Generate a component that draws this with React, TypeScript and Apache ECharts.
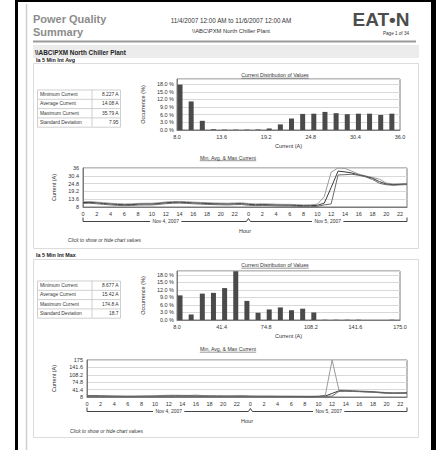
import React, { useEffect, useRef } from "react";
import * as echarts from "echarts";

const FONT = '"Liberation Sans", Arial, Helvetica, sans-serif';

const reportTitle = ["Power Quality", "Summary"];
const dateRange = "11/4/2007 12:00 AM to 11/6/2007 12:00 AM";
const sourceName = "\\\\ABC\\PXM North Chiller Plant";
const pageLabel = "Page 1 of 34";
const logoText = "EAT\u2022N";
const sectionTitles = ["Ia 5 Min Int Avg", "Ia 5 Min Int Max"];
const distTitle = "Current Distribution of Values";
const trendTitle = "Min, Avg, & Max Current";
const clickText = "Click to show or hide chart values";

const statLabels = ["Minimum Current", "Average Current", "Maximum Current", "Standard Deviation"];
const avgStatValues = ["8.227 A", "14.08 A", "35.79 A", "7.95"];
const maxStatValues = ["8.677 A", "15.42 A", "174.8 A", "18.7"];

const dayLabels = ["Nov 4, 2007", "Nov 5, 2007"];
const hourLabels = [
  "0", "1", "2", "3", "4", "5", "6", "7", "8", "9", "10", "11",
  "12", "13", "14", "15", "16", "17", "18", "19", "20", "21", "22", "23",
  "0", "1", "2", "3", "4", "5", "6", "7", "8", "9", "10", "11",
  "12", "13", "14", "15", "16", "17", "18", "19", "20", "21", "22", "23",
];

// Histogram: Ia 5 Min Int Avg
const avgBinStart = 8.0;
const avgBinWidth = 1.4;
const avgOccurrence = [17.8, 11.2, 3.6, 0.3, 0.15, 0.15, 0.15, 0.15, 0.6, 2.2, 4.5, 6.3, 6.4, 7.1, 6.6, 6.2, 6.4, 6.4, 5.9, 6.4];
const avgBinTicks = [8.0, 13.6, 19.2, 24.8, 30.4, 36.0];

// Histogram: Ia 5 Min Int Max
const maxBinStart = 8.0;
const maxBinWidth = 8.35;
const maxOccurrence = [9.8, 2.2, 10.5, 10.8, 12.7, 19.4, 7.6, 2.9, 4.2, 5.0, 3.9, 4.5, 3.0, 0.1, 0.1, 0.1, 0.1, 0, 0, 0.1];
const maxBinTicks = [8.0, 41.4, 74.8, 108.2, 141.6, 175.0];

const occurrenceTicks = [0, 3, 6, 9, 12, 15, 18];
const avgCurrentTicks = [8, 13.6, 19.2, 24.8, 30.4, 36];
const maxCurrentTicks = [8, 41.4, 74.8, 108.2, 141.6, 175];

// Hourly trend: Ia 5 Min Int Avg
const avgTrendMin = [10.6, 10.7, 10.3, 9.9, 9.5, 9.2, 9.0, 9.1, 9.4, 9.5, 9.5, 9.9, 10.4, 10.7, 10.8, 10.6, 10.3, 10.1, 9.9, 9.7, 9.6, 9.5, 9.7, 9.8, 9.3, 9.0, 9.1, 9.0, 8.8, 8.7, 8.7, 8.5, 8.3, 8.2, 8.5, 9.5, 10.2, 31.0, 31.2, 31.5, 30.8, 29.6, 27.8, 25.0, 24.0, 23.6, 23.9, 24.1];
const avgTrendAvg = [11.2, 11.3, 10.9, 10.5, 10.1, 9.8, 9.6, 9.7, 10.0, 10.1, 10.1, 10.5, 11.0, 11.3, 11.4, 11.2, 10.9, 10.7, 10.5, 10.3, 10.2, 10.1, 10.3, 10.4, 9.9, 9.6, 9.7, 9.6, 9.4, 9.3, 9.3, 9.1, 8.9, 8.9, 9.2, 10.8, 22.0, 33.8, 33.2, 32.4, 31.0, 30.0, 28.6, 26.2, 24.5, 24.0, 24.2, 24.4];
const avgTrendMax = [11.8, 11.9, 11.5, 11.1, 10.7, 10.4, 10.2, 10.3, 10.6, 10.7, 10.7, 11.1, 11.6, 11.9, 12.0, 11.8, 11.5, 11.3, 11.1, 10.9, 10.8, 10.7, 10.9, 11.0, 10.5, 10.2, 10.3, 10.2, 10.0, 9.9, 9.9, 9.7, 9.5, 9.6, 10.0, 15.5, 33.0, 36.0, 35.7, 33.7, 31.6, 30.3, 29.2, 28.0, 25.2, 24.5, 24.7, 25.0];

// Hourly trend: Ia 5 Min Int Max
const maxTrendMin = [11.2, 11.3, 10.9, 10.5, 10.1, 9.8, 9.6, 9.7, 10.0, 10.1, 10.2, 10.6, 11.1, 11.4, 11.5, 11.3, 11.0, 10.8, 10.6, 10.4, 10.3, 10.2, 10.4, 10.5, 10.0, 9.7, 9.8, 9.7, 9.5, 9.4, 9.4, 9.2, 9.0, 8.7, 9.3, 10.8, 12.0, 33.5, 34.0, 33.0, 32.0, 30.5, 29.5, 27.0, 25.0, 24.5, 24.8, 25.0];
const maxTrendAvg = [12.4, 12.5, 12.0, 11.6, 11.2, 10.9, 10.7, 10.8, 11.1, 11.2, 11.4, 11.8, 12.3, 12.6, 12.7, 12.5, 12.2, 11.9, 11.7, 11.5, 11.4, 11.3, 11.5, 11.6, 11.0, 10.7, 10.8, 10.7, 10.5, 10.4, 10.4, 10.2, 10.0, 9.9, 10.4, 12.5, 24.0, 36.0, 35.5, 34.5, 33.0, 31.8, 30.5, 28.5, 26.0, 25.5, 25.7, 26.0];
const maxTrendMax = [14.5, 14.8, 14.0, 13.5, 13.0, 12.6, 12.3, 12.5, 12.9, 13.2, 13.6, 15.0, 15.8, 16.0, 15.5, 15.2, 16.5, 14.4, 13.9, 13.6, 13.4, 13.3, 13.6, 13.8, 13.0, 12.6, 12.7, 12.5, 12.3, 12.2, 12.2, 12.0, 11.8, 11.7, 12.5, 16.0, 174.8, 40.0, 38.5, 37.0, 35.5, 34.0, 32.5, 30.5, 28.0, 27.0, 27.2, 27.5];

const INK = "#333";
const FRAME = "#7a7a7a";
const GRIDLINE = "#d9d9d9";
const BAR = "#4a4a4a";
const LINE_MIN = "#6a6a6a";
const LINE_AVG = "#3a3a3a";
const LINE_MAX = "#9a9a9a";

export default function App() {
  const ref = useRef<HTMLDivElement>(null);

  useEffect(() => {
    const el = ref.current!;
    const chart = echarts.init(el, null, { renderer: "svg" });
    const ctx = document.createElement("canvas").getContext("2d")!;
    const measure = (s: string, size: number, weight = "normal", style = "normal") => {
      ctx.font = `${style} ${weight} ${size}px ${FONT}`;
      return ctx.measureText(s).width;
    };

    const small = 5.5;
    const lbl = { fontSize: small, color: INK, fontFamily: FONT };

    const histX = (gridIndex: number, ticks: number[], min: number, max: number) => ({
      gridIndex,
      type: "value",
      min,
      max,
      axisLine: { show: true, lineStyle: { color: FRAME } },
      axisTick: { show: false, customValues: ticks },
      axisLabel: { ...lbl, customValues: ticks, margin: 4, formatter: (v: number) => v.toFixed(1) },
      splitLine: { show: false },
      name: "Current (A)",
      nameLocation: "middle",
      nameGap: 13,
      nameTextStyle: lbl,
    });
    const histY = (gridIndex: number, max: number) => ({
      gridIndex,
      type: "value",
      min: 0,
      max,
      interval: 3,
      axisLine: { show: true, lineStyle: { color: FRAME } },
      axisTick: { show: false },
      axisLabel: { ...lbl, margin: 3, formatter: (v: number) => (v > 18.5 ? "" : v.toFixed(1) + " %") },
      splitLine: { show: true, lineStyle: { color: GRIDLINE, width: 1 } },
      name: "Occurrence (%)",
      nameLocation: "middle",
      nameGap: 26,
      nameTextStyle: lbl,
    });
    const trendX = (gridIndex: number) => ({
      gridIndex,
      type: "category",
      data: hourLabels,
      boundaryGap: false,
      axisLine: { show: true, lineStyle: { color: FRAME } },
      axisTick: { show: false },
      axisLabel: { ...lbl, interval: 1, margin: 4 },
      splitLine: { show: false },
      name: "Hour",
      nameLocation: "middle",
      nameGap: 21,
      nameTextStyle: lbl,
    });
    const trendY = (gridIndex: number, ticks: number[], gap: number) => ({
      gridIndex,
      type: "value",
      min: ticks[0],
      max: ticks[ticks.length - 1],
      axisLine: { show: true, lineStyle: { color: FRAME } },
      axisTick: { show: false, customValues: ticks },
      axisLabel: { ...lbl, customValues: ticks, margin: 4, formatter: (v: number) => String(v) },
      splitLine: { show: true, lineStyle: { color: GRIDLINE, width: 1 } },
      name: "Current (A)",
      nameLocation: "middle",
      nameGap: gap,
      nameTextStyle: lbl,
    });

    const bars = (idx: number, start: number, width: number, vals: number[]) => ({
      type: "bar",
      xAxisIndex: idx,
      yAxisIndex: idx,
      barWidth: 5,
      itemStyle: { color: BAR },
      data: vals.map((v, i) => [start + width * (i + 0.27), v]),
    });
    const line = (idx: number, vals: number[], color: string, name: string) => ({
      type: "line",
      name,
      xAxisIndex: idx,
      yAxisIndex: idx,
      showSymbol: false,
      symbol: "none",
      lineStyle: { color, width: 1 },
      itemStyle: { color },
      data: vals,
    });

    const gridBase = { show: true, borderColor: FRAME, borderWidth: 1, backgroundColor: "transparent", containLabel: false };

    chart.setOption({
      animation: false,
      textStyle: { fontFamily: FONT },
      grid: [
        { ...gridBase, left: 177, top: 79, width: 223, height: 51 },
        { ...gridBase, left: 83, top: 168, width: 324, height: 39 },
        { ...gridBase, left: 177, top: 271, width: 223, height: 49 },
        { ...gridBase, left: 87, top: 360, width: 320, height: 37 },
      ],
      xAxis: [
        histX(0, avgBinTicks, avgBinTicks[0], avgBinTicks[avgBinTicks.length - 1]),
        trendX(1),
        histX(2, maxBinTicks, maxBinTicks[0], maxBinTicks[maxBinTicks.length - 1]),
        trendX(3),
      ],
      yAxis: [
        histY(0, 20),
        trendY(1, avgCurrentTicks, 26),
        histY(2, 19.5),
        trendY(3, maxCurrentTicks, 30),
      ],
      series: [
        bars(0, avgBinStart, avgBinWidth, avgOccurrence),
        line(1, avgTrendMax, LINE_MAX, "Max"),
        line(1, avgTrendAvg, LINE_AVG, "Avg"),
        line(1, avgTrendMin, LINE_MIN, "Min"),
        bars(2, maxBinStart, maxBinWidth, maxOccurrence),
        line(3, maxTrendMax, LINE_MAX, "Max"),
        line(3, maxTrendAvg, LINE_AVG, "Avg"),
        line(3, maxTrendMin, LINE_MIN, "Min"),
      ],
    });

    const els: any[] = [];
    const text = (x: number, y: number, s: string, size: number, o: any = {}) =>
      els.push({
        type: "text",
        x,
        y,
        z: 10,
        style: {
          text: s,
          fontSize: size,
          fontFamily: FONT,
          fontWeight: o.weight || "normal",
          fontStyle: o.style || "normal",
          fill: o.fill || INK,
          align: o.align || "left",
          verticalAlign: o.va || "middle",
        },
      });
    const rect = (x: number, y: number, w: number, h: number, fill: string, stroke?: string) =>
      els.push({ type: "rect", z: 1, shape: { x, y, width: w, height: h }, style: { fill, stroke: stroke || null, lineWidth: 1 } });
    const ln = (x1: number, y1: number, x2: number, y2: number, stroke: string, w = 1) =>
      els.push({ type: "line", z: 5, shape: { x1, y1, x2, y2 }, style: { stroke, lineWidth: w } });
    const poly = (pts: number[][], stroke: string) =>
      els.push({ type: "polyline", z: 5, shape: { points: pts }, style: { stroke, fill: null, lineWidth: 1 } });

    // scanned page frame
    rect(15, 0, 3, 450, "#000");
    rect(15, 0, 421, 2, "#000");
    rect(431, 0, 5, 450, "#000");
    ln(26.5, 4, 26.5, 450, "#cfcfcf", 1.5);

    // header
    text(33, 19, reportTitle[0], 11, { weight: "bold", fill: "#8c8c8c" });
    text(33, 31.5, reportTitle[1], 11, { weight: "bold", fill: "#8c8c8c" });
    text(231, 20, dateRange, 6.3, { align: "center" });
    text(231, 31, sourceName, 5.8, { align: "center" });
    text(381, 19, logoText, 19, { weight: "900", fill: "#4d4d4d", align: "center" });
    text(396, 33, pageLabel, 4.6, { align: "center" });
    ln(33, 41.5, 416, 41.5, "#9a9a9a", 2);

    // section frames
    rect(33, 45, 386, 13, "#ececec");
    rect(33.5, 63.5, 385, 185, "none", "#dcdcdc");
    rect(33.5, 259.5, 385, 178, "none", "#dcdcdc");
    text(35, 52, sourceName, 6.4, { weight: "bold", fill: "#222" });
    text(36, 60, sectionTitles[0], 5.4, { weight: "bold", fill: "#222" });
    text(36, 254.5, sectionTitles[1], 5.4, { weight: "bold", fill: "#222" });

    // stats tables
    const table = (top: number, vals: string[]) => {
      const rh = 9.3;
      rect(37.5, top + 0.5, 83, rh * 4, "#fff", "#cfcfcf");
      ln(92, top, 92, top + rh * 4, "#cfcfcf");
      for (let i = 1; i < 4; i++) ln(37.5, top + rh * i + 0.5, 120.5, top + rh * i + 0.5, "#cfcfcf");
      statLabels.forEach((s, i) => {
        text(40, top + rh * i + rh / 2 + 0.5, s, 4.9);
        text(118.5, top + rh * i + rh / 2 + 0.5, vals[i], 4.9, { align: "right" });
      });
    };
    table(89.5, avgStatValues);
    table(280.5, maxStatValues);

    // underlined chart titles
    const uTitle = (cx: number, y: number, s: string) => {
      const size = 5.2;
      const w = measure(s, size);
      text(cx, y, s, size, { align: "center" });
      ln(cx - w / 2, y + 3.2, cx + w / 2, y + 3.2, "#555", 0.6);
    };
    uTitle(275, 75, distTitle);
    uTitle(228, 157.5, trendTitle);
    uTitle(275, 265, distTitle);
    uTitle(228, 349, trendTitle);

    text(68, 240.5, clickText, 4.9, { style: "italic" });
    text(70, 431, clickText, 4.9, { style: "italic" });

    // day brackets below the hourly axes, placed through the axis scales
    const bracketFor = (axisIdx: number, yMin: number) => {
      const xp = (i: number) => chart.convertToPixel({ xAxisIndex: axisIdx } as any, i) as number;
      const yb = (chart.convertToPixel({ yAxisIndex: axisIdx } as any, yMin) as number) + 14.5;
      const x0 = xp(0);
      const xm = xp(24);
      const x1 = xp(hourLabels.length - 1);
      const size = 4.9;
      const segs = [
        [x0, xm, dayLabels[0]],
        [xm, x1, dayLabels[1]],
      ] as [number, number, string][];
      segs.forEach(([a, b, label], k) => {
        const cx = (a + b) / 2;
        const gap = measure(label, size) / 2 + 2.5;
        text(cx, yb, label, size, { align: "center" });
        if (k === 0) {
          poly([[a, yb - 4], [a, yb], [cx - gap, yb]], "#444");
          poly([[cx + gap, yb], [b - 2, yb], [b, yb - 3]], "#444");
        } else {
          poly([[a, yb - 3], [a + 2, yb], [cx - gap, yb]], "#444");
          poly([[cx + gap, yb], [b, yb], [b, yb - 4]], "#444");
        }
      });
    };
    bracketFor(1, avgCurrentTicks[0]);
    bracketFor(3, maxCurrentTicks[0]);

    chart.setOption({ graphic: { elements: els } });

    return () => chart.dispose();
  }, []);

  return <div ref={ref} style={{ position: "absolute", left: 0, top: 0, width: 436, height: 450, background: "#fff" }} />;
}
